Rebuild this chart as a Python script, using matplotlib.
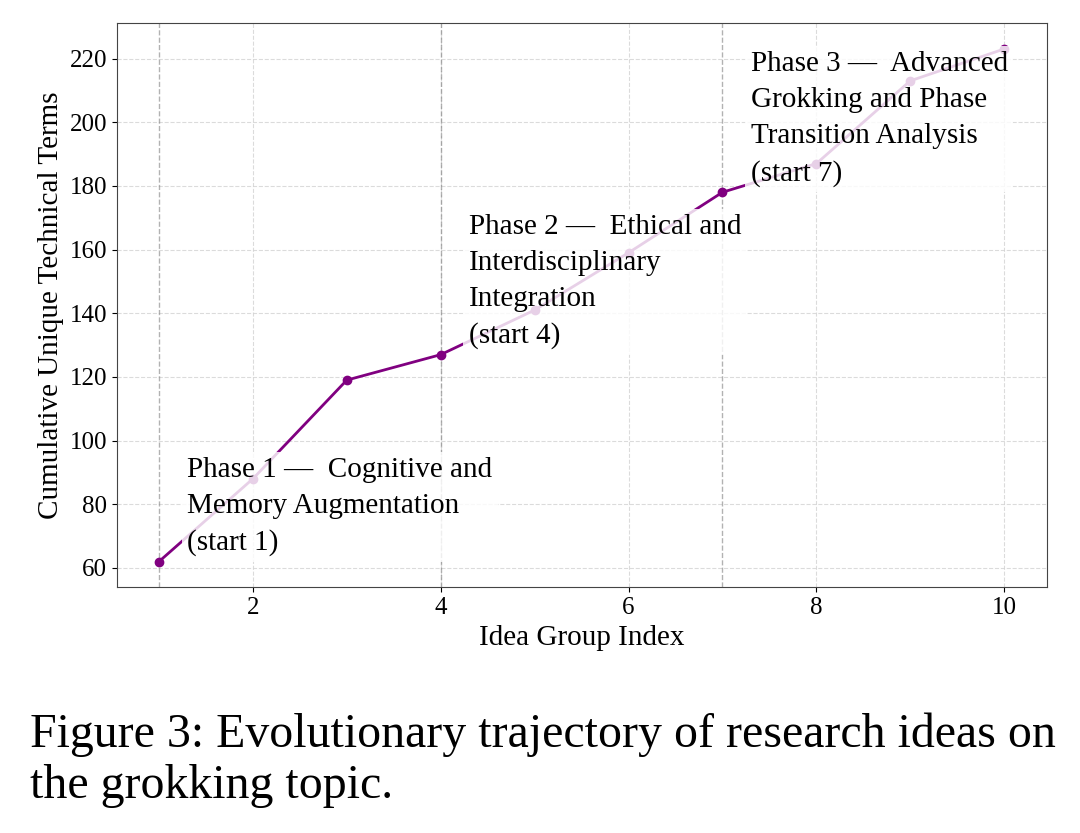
import matplotlib.pyplot as plt
import numpy as np

plt.rcParams['font.family'] = ['Liberation Serif', 'DejaVu Serif']

idea_groups = [1, 2, 3, 4, 5, 6, 7, 8, 9, 10]
cumulative_terms = [62, 88, 119, 127, 141, 159, 178, 187, 213, 223]
phase_starts = [1, 4, 7]
phase_labels = [
    'Phase 1 —  Cognitive and\nMemory Augmentation\n(start 1)',
    'Phase 2 —  Ethical and\nInterdisciplinary\nIntegration\n(start 4)',
    'Phase 3 —  Advanced\nGrokking and Phase\nTransition Analysis\n(start 7)',
]

fig = plt.figure(figsize=(10.8, 8.33), dpi=100)
ax = fig.add_axes([0.108, 0.295, 0.861, 0.677])

ax.plot(idea_groups, cumulative_terms, color='purple', marker='o',
        linewidth=2, markersize=6, zorder=2)

for start, label in zip(phase_starts, phase_labels):
    ax.axvline(start, color='gray', linestyle='--', linewidth=1, alpha=0.6, zorder=1)
    ax.annotate(label, xy=(start + 0.3, cumulative_terms[start - 1]),
                xytext=(0, 4), textcoords='offset points',
                fontsize=21, linespacing=1.5, ha='left', va='bottom', zorder=3,
                bbox=dict(facecolor='white', edgecolor='none', alpha=0.82, pad=4))

ax.grid(True, linestyle='--', color='lightgray', alpha=0.8, linewidth=0.8)
ax.set_axisbelow(True)
ax.set_xlabel('Idea Group Index', fontsize=21)
ax.set_ylabel('Cumulative Unique Technical Terms', fontsize=21)
ax.tick_params(labelsize=18)
for s in ax.spines.values():
    s.set_color('#444444')

fig.text(0.028, 0.03, 'Figure 3: Evolutionary trajectory of research ideas on\nthe grokking topic.',
         fontsize=34.5, ha='left', va='bottom', linespacing=1.2)

fig.savefig('out.png', dpi=100)
